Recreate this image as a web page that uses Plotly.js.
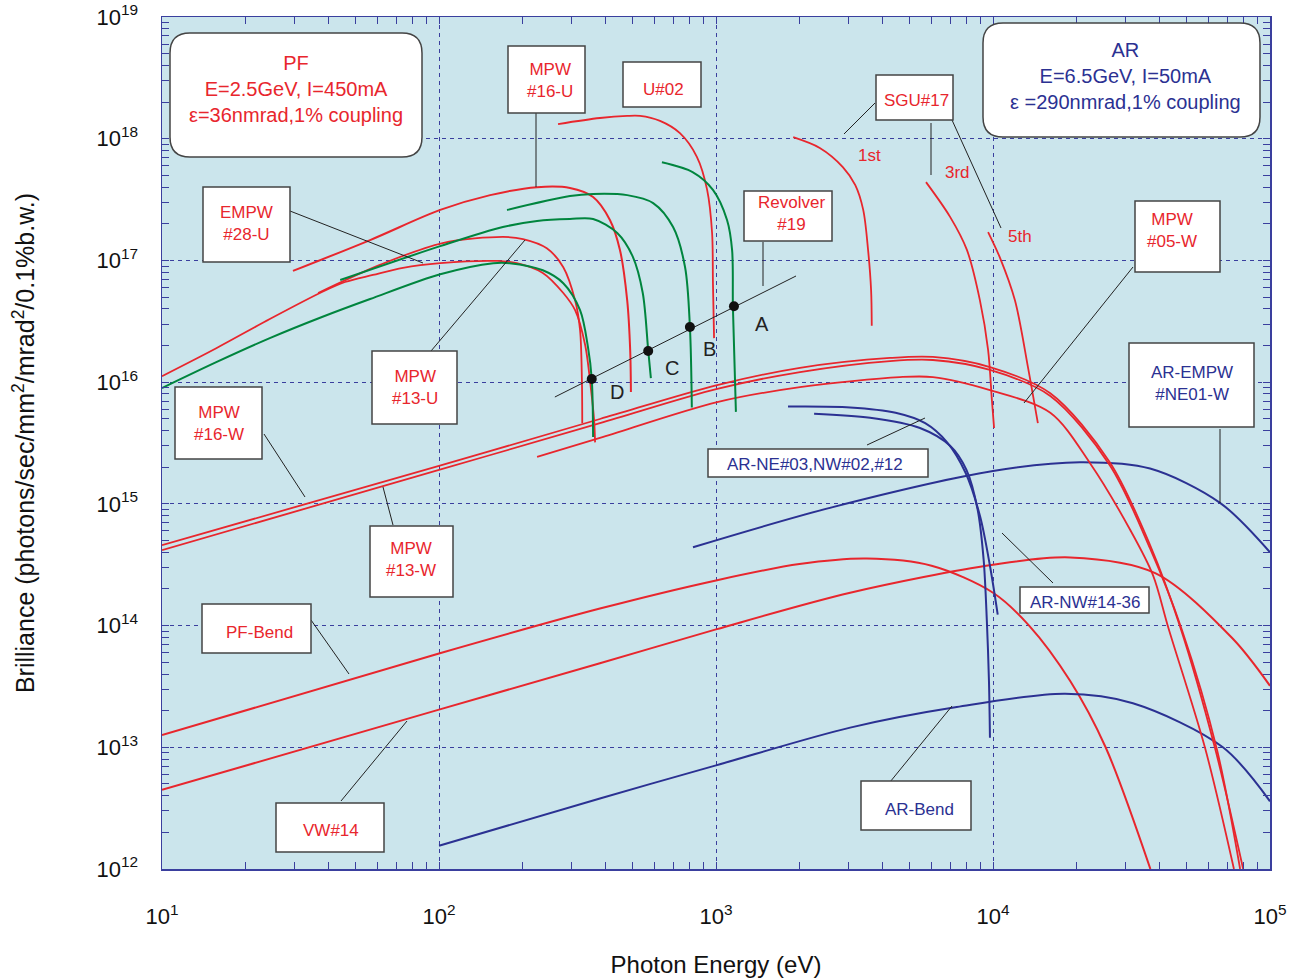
<!DOCTYPE html>
<html>
<head>
<meta charset="utf-8">
<script src="https://cdn.plot.ly/plotly-3.0.1.min.js"></script>
<style>html,body{margin:0;padding:0;background:#fff;}#chart{width:1305px;height:979px;}</style>
</head>
<body>
<div id="chart"></div>
<script>
// ---------- DATA (photon energy eV, brilliance) ----------
const xTickVals = [1e1, 1e2, 1e3, 1e4, 1e5];
const xTickText = ['10<sup>1</sup>', '10<sup>2</sup>', '10<sup>3</sup>', '10<sup>4</sup>', '10<sup>5</sup>'];
const yTickVals = [1e12, 1e13, 1e14, 1e15, 1e16, 1e17, 1e18, 1e19];
const yTickText = ['10<sup>12</sup>', '10<sup>13</sup>', '10<sup>14</sup>', '10<sup>15</sup>', '10<sup>16</sup>', '10<sup>17</sup>', '10<sup>18</sup>', '10<sup>19</sup>'];

// PF bending magnet
const pfBendE = [10, 100, 381, 1000, 2000, 3500, 6000, 10000, 13500, 19000, 25500, 37000];
const pfBendB = [1.26e13, 5.9e13, 1.38e14, 2.35e14, 3.2e14, 3.55e14, 3.1e14, 1.86e14, 1.0e14, 3.5e13, 1.0e13, 1.0e12];
// VW#14
const vw14E = [10, 100, 381, 1000, 3050, 10000, 19000, 38500, 73000, 100000];
const vw14B = [4.47e12, 2.04e13, 4.9e13, 9.3e13, 1.86e14, 3.16e14, 3.63e14, 2.7e14, 7.9e13, 3.2e13];
// AR bending magnet
const arBendE = [100, 381, 1000, 3050, 7400, 18200, 32000, 67600, 100000];
const arBendB = [1.55e12, 3.8e12, 7.1e12, 1.45e13, 2.14e13, 2.75e13, 2.3e13, 1.0e13, 3.6e12];
// AR-EMPW #NE01-W
const arEmpwE = [826, 2640, 10000, 20600, 36900, 66000, 100000];
const arEmpwB = [4.4e14, 9.4e14, 1.86e15, 2.2e15, 1.95e15, 1.02e15, 4.0e14];
// AR-NE#03, NW#02, #12 (two undulator curves)
const arNeAE = [1820, 3050, 4450, 5690, 6830, 7960, 8980, 9750, 10400];
const arNeAB = [6.3e15, 6.2e15, 5.6e15, 4.6e15, 3.2e15, 1.8e15, 7.9e14, 3.1e14, 1.23e14];
const arNeBE = [2260, 3600, 5450, 7000, 8020, 8800, 9250, 9500, 9670, 9750];
const arNeBB = [5.5e15, 5.1e15, 4.2e15, 3.0e15, 1.9e15, 9.0e14, 3.5e14, 1.1e14, 3.5e13, 1.2e13];
// MPW#16-W, MPW#13-W, MPW#05-W
const mpw16wE = [10, 100, 381, 1010, 2010, 4250, 6070, 9750, 16100, 26400, 36900, 47300, 63200, 80000];
const mpw16wB = [4.58e14, 2.05e15, 4.98e15, 9.46e15, 1.31e16, 1.58e16, 1.61e16, 1.33e16, 8.1e15, 2.2e15, 4.58e14, 9.9e13, 1.0e13, 1.0e12];
const mpw13wE = [10, 100, 381, 1010, 2010, 4250, 6070, 9750, 16100, 26400, 36900, 48100, 64400, 78000];
const mpw13wB = [4.17e14, 1.9e15, 4.6e15, 8.8e15, 1.21e16, 1.49e16, 1.52e16, 1.26e16, 7.7e15, 2.08e15, 4.3e14, 9.2e13, 9.5e12, 1.0e12];
const mpw05wE = [226, 381, 1010, 2010, 4610, 6070, 9750, 16100, 22400, 31300, 37800, 42900, 58200, 74100];
const mpw05wB = [2.43e15, 3.48e15, 6.85e15, 9.1e15, 1.1e16, 1.1e16, 8.6e15, 5.6e15, 2.16e15, 6.1e14, 2.6e14, 9.7e13, 1.0e13, 1.0e12];
// SGU#17 harmonics
const sgu1E = [1900, 2370, 2870, 3180, 3400, 3540, 3630, 3650];
const sgu1B = [1.03e18, 8.4e17, 5.85e17, 4.17e17, 2.6e17, 1.22e17, 5.7e16, 2.9e16];
const sgu3E = [5730, 7000, 8050, 8970, 9600, 9910, 10090];
const sgu3B = [4.4e17, 2.28e17, 1.22e17, 4.7e16, 1.84e16, 7.1e15, 4.2e15];
const sgu5E = [9600, 10600, 12000, 13370, 14520];
const sgu5B = [1.71e17, 1.05e17, 4.7e16, 1.33e16, 4.6e15];
// U#02
const u02E = [269, 381, 478, 532, 628, 741, 853, 929, 968, 975, 984];
const u02B = [1.32e18, 1.48e18, 1.54e18, 1.54e18, 1.40e18, 1.11e18, 7.1e17, 3.8e17, 1.68e17, 6.5e16, 2.3e16];
// MPW#16-U, MPW#13-U, EMPW#28-U
const mpw16uE = [29.7, 56.4, 101, 153, 226, 297, 360, 414, 450, 478, 490, 493];
const mpw16uB = [8.2e16, 1.47e17, 2.6e17, 3.44e17, 4.0e17, 3.94e17, 3.32e17, 2.15e17, 1.22e17, 4.7e16, 1.84e16, 8.3e15];
const mpw13uE = [36.6, 61.2, 103, 170, 201, 245, 281, 310, 323, 328, 329];
const mpw13uB = [5.4e16, 9.2e16, 1.39e17, 1.56e17, 1.5e17, 1.26e17, 8.8e16, 4.7e16, 2.68e16, 1.04e16, 4.6e15];
const empw28uE = [10, 15.7, 24.5, 37.8, 45.8, 57.7, 74.1, 101, 162, 191, 237, 281, 310, 337, 354, 363, 366];
const empw28uB = [1.12e16, 1.9e16, 3.3e16, 5.5e16, 6.65e16, 7.6e16, 8.7e16, 9.5e16, 9.9e16, 9.5e16, 7.9e16, 5.4e16, 3.9e16, 2.02e16, 8.6e15, 4.9e15, 3.2e15];
// Revolver #19 modes A-D
const revAE = [638, 826, 975, 1096, 1143, 1151, 1180];
const revAB = [6.4e17, 5.3e17, 3.8e17, 2.15e17, 1.22e17, 4.1e16, 5.7e15];
const revBE = [176, 297, 360, 478, 593, 700, 773, 805, 818];
const revBB = [2.6e17, 3.38e17, 3.52e17, 3.44e17, 2.96e17, 1.88e17, 8.83e16, 2.84e16, 6.2e15];
const revCE = [44, 101, 170, 226, 297, 360, 440, 501, 544, 569, 582];
const revCB = [6.9e16, 1.31e17, 1.88e17, 2.11e17, 2.19e17, 2.19e17, 1.68e17, 1.07e17, 5.4e16, 1.84e16, 1.08e16];
const revDE = [10, 15.7, 24.5, 37.8, 56.4, 101, 157, 180, 237, 281, 323, 345, 356, 360];
const revDB = [8.95e15, 1.46e16, 2.3e16, 3.43e16, 4.82e16, 7.7e16, 9.5e16, 9.5e16, 8.3e16, 6.5e16, 3.9e16, 1.94e16, 1.06e16, 3.54e15];
// Revolver mode line and points
const revLineE = [262, 1945];
const revLineB = [7.55e15, 7.45e16];
const revPtE = [356, 569, 805, 1161];
const revPtB = [1.06e16, 1.8e16, 2.84e16, 4.2e16];

// ---------- STYLE ----------
const RED = '#e8262d', GREEN = '#00853e', BLUE = '#2b3192', INK = '#222222';
const FONT = 'Liberation Sans, Arial, Helvetica, sans-serif';

function curve(E, B, color, w) {
  return {x: E, y: B, type: 'scatter', mode: 'lines', hoverinfo: 'skip', showlegend: false,
          line: {color: color, width: w || 2, shape: 'spline', smoothing: 0.9}};
}

const traces = [
  curve(pfBendE, pfBendB, RED), curve(vw14E, vw14B, RED), curve(arBendE, arBendB, BLUE),
  curve(arEmpwE, arEmpwB, BLUE), curve(arNeAE, arNeAB, BLUE), curve(arNeBE, arNeBB, BLUE),
  curve(mpw16wE, mpw16wB, RED, 1.8), curve(mpw13wE, mpw13wB, RED, 1.8), curve(mpw05wE, mpw05wB, RED, 1.8),
  curve(sgu1E, sgu1B, RED, 1.8), curve(sgu3E, sgu3B, RED, 1.8), curve(sgu5E, sgu5B, RED, 1.8),
  curve(u02E, u02B, RED, 1.8), curve(mpw16uE, mpw16uB, RED), curve(mpw13uE, mpw13uB, RED, 1.8),
  curve(empw28uE, empw28uB, RED, 1.8),
  curve(revAE, revAB, GREEN), curve(revBE, revBB, GREEN), curve(revCE, revCB, GREEN), curve(revDE, revDB, GREEN),
  {x: revLineE, y: revLineB, type: 'scatter', mode: 'lines', hoverinfo: 'skip', showlegend: false,
   line: {color: INK, width: 1}},
  {x: revPtE, y: revPtB, type: 'scatter', mode: 'markers', hoverinfo: 'skip', showlegend: false,
   marker: {color: '#111', size: 10, symbol: 'circle'}}
];

// ---------- LAYOUT DECORATIONS (pixel positions -> paper) ----------
const PL = 162, PR = 1270, PT = 17, PB = 869;
const px = x => (x - PL) / (PR - PL);
const py = y => (PB - y) / (PB - PT);

const boxes = [
  {b: [203,187,290,262], c: [246,223], t: 'EMPW<br>#28-U', col: RED},
  {b: [508,46,585,113], c: [550,80], t: 'MPW<br>#16-U', col: RED},
  {b: [623,62,701,107], c: [663,89], t: 'U#02', col: RED},
  {b: [744,191,832,241], c: [791,214], t: 'Revolver<br>#19', col: RED},
  {b: [876,75,953,120], c: [916,101], t: 'SGU#17', col: RED},
  {b: [1135,201,1220,272], c: [1172,230], t: 'MPW<br>#05-W', col: RED},
  {b: [1129,343,1254,427], c: [1192,383], t: 'AR-EMPW<br>#NE01-W', col: BLUE},
  {b: [372,351,457,424], c: [415,387], t: 'MPW<br>#13-U', col: RED},
  {b: [175,387,262,459], c: [219,423], t: 'MPW<br>#16-W', col: RED},
  {b: [708,449,928,477], c: [815,464], t: 'AR-NE#03,NW#02,#12', col: BLUE},
  {b: [370,526,453,597], c: [411,559], t: 'MPW<br>#13-W', col: RED},
  {b: [1020,587,1149,613], c: [1085,602], t: 'AR-NW#14-36', col: BLUE},
  {b: [202,604,311,653], c: [259,632], t: 'PF-Bend', col: RED},
  {b: [276,803,384,852], c: [331,830], t: 'VW#14', col: RED},
  {b: [861,781,971,830], c: [919,809], t: 'AR-Bend', col: BLUE}
];
const pointers = [
  [290,211,423,263], [536,113,536,187], [431,351,525,240], [264,434,305,497], [393,525,383,487],
  [311,620,349,674], [341,801,407,721], [763,242,763,286], [875,103,844,134], [931,123,931,175],
  [952,120,1001,228], [1133,267,1024,403], [867,445,925,418], [1053,583,1002,533], [1220,429,1220,503],
  [890,782,952,706]
];
const texts = [
  {p: [869,156], t: '1st', col: RED, s: 17}, {p: [957,173], t: '3rd', col: RED, s: 17},
  {p: [1020,236], t: '5th', col: RED, s: 17},
  {p: [762,324], t: 'A', col: INK, s: 20}, {p: [709,349], t: 'B', col: INK, s: 20},
  {p: [672,368], t: 'C', col: INK, s: 20}, {p: [617,392], t: 'D', col: INK, s: 20}
];

function roundRect(x0, y0, x1, y1, r) {
  const P = (x, y) => px(x).toFixed(5) + ',' + py(y).toFixed(5);
  return 'M' + P(x0 + r, y0) + ' L' + P(x1 - r, y0) + ' Q' + P(x1, y0) + ' ' + P(x1, y0 + r) +
         ' L' + P(x1, y1 - r) + ' Q' + P(x1, y1) + ' ' + P(x1 - r, y1) +
         ' L' + P(x0 + r, y1) + ' Q' + P(x0, y1) + ' ' + P(x0, y1 - r) +
         ' L' + P(x0, y0 + r) + ' Q' + P(x0, y0) + ' ' + P(x0 + r, y0) + ' Z';
}

const shapes = [];
const annotations = [];
pointers.forEach(l => shapes.push({type: 'line', xref: 'paper', yref: 'paper', x0: px(l[0]), y0: py(l[1]), x1: px(l[2]), y1: py(l[3]), line: {color: INK, width: 1}}));
shapes.push({type: 'path', xref: 'paper', yref: 'paper', path: roundRect(170, 33, 422, 157, 20), fillcolor: '#ffffff', line: {color: '#444', width: 1.5}});
shapes.push({type: 'path', xref: 'paper', yref: 'paper', path: roundRect(983, 23, 1260, 137, 20), fillcolor: '#ffffff', line: {color: '#444', width: 1.5}});
boxes.forEach(b => {
  shapes.push({type: 'rect', xref: 'paper', yref: 'paper', x0: px(b.b[0]), y0: py(b.b[1]), x1: px(b.b[2]), y1: py(b.b[3]), fillcolor: '#ffffff', line: {color: '#444', width: 1.5}});
  annotations.push({xref: 'paper', yref: 'paper', x: px(b.c[0]), y: py(b.c[1]), text: b.t, showarrow: false, xanchor: 'center', yanchor: 'middle', font: {family: FONT, size: 17, color: b.col}});
});
annotations.push({xref: 'paper', yref: 'paper', x: px(296), y: py(89), text: 'PF<br>E=2.5GeV, I=450mA<br>\u03b5=36nmrad,1% coupling', showarrow: false, xanchor: 'center', yanchor: 'middle', font: {family: FONT, size: 20, color: RED}});
annotations.push({xref: 'paper', yref: 'paper', x: px(1125), y: py(76), text: 'AR<br>E=6.5GeV, I=50mA<br>\u03b5 =290nmrad,1% coupling', showarrow: false, xanchor: 'center', yanchor: 'middle', font: {family: FONT, size: 20, color: BLUE}});
texts.forEach(t => annotations.push({xref: 'paper', yref: 'paper', x: px(t.p[0]), y: py(t.p[1]), text: t.t, showarrow: false, xanchor: 'center', yanchor: 'middle', font: {family: FONT, size: t.s, color: t.col}}));

const axisCommon = {
  type: 'log', tickmode: 'array',
  showgrid: true, gridcolor: '#3a3f9e', gridwidth: 1, griddash: '4px,4px',
  showline: true, linecolor: '#3a3f9e', linewidth: 1.5, mirror: 'allticks',
  ticks: 'inside', ticklen: 0, tickcolor: '#3a3f9e',
  minor: {dtick: 'D1', ticks: 'inside', ticklen: 7, tickcolor: '#3a3f9e', tickwidth: 1, showgrid: false},
  zeroline: false, tickfont: {family: FONT, size: 22, color: '#111'}
};

const layout = {
  width: 1305, height: 979,
  margin: {l: PL, r: 1305 - PR, t: PT, b: 979 - PB},
  paper_bgcolor: '#ffffff', plot_bgcolor: '#cbe5ec',
  showlegend: false,
  xaxis: Object.assign({}, axisCommon, {range: [0.99999, 5.00001], tickvals: xTickVals, ticktext: xTickText,
    ticklabelstandoff: 27,
    title: {text: 'Photon Energy (eV)', font: {family: FONT, size: 24, color: '#111'}, standoff: 28}}),
  yaxis: Object.assign({}, axisCommon, {range: [11.99999, 19.00001], tickvals: yTickVals, ticktext: yTickText,
    ticklabelstandoff: 18,
    title: {text: 'Brilliance (photons/sec/mm<sup>2</sup>/mrad<sup>2</sup>/0.1%b.w.)', font: {family: FONT, size: 25, color: '#111'}, standoff: 54}}),
  shapes: shapes,
  annotations: annotations
};

Plotly.newPlot('chart', traces, layout, {staticPlot: true, displayModeBar: false});
</script>
</body>
</html>
